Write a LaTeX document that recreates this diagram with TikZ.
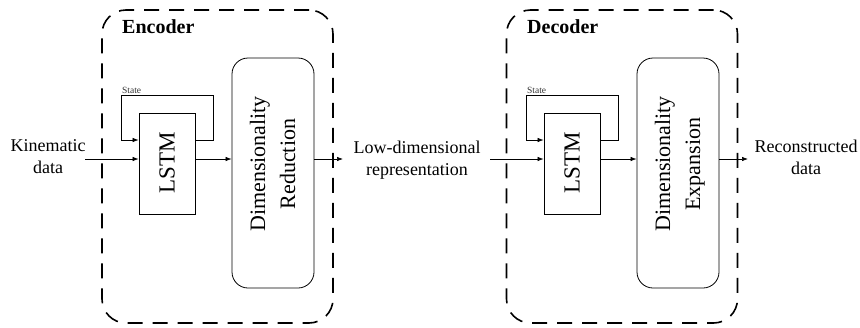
\documentclass[tikz,border=0pt]{standalone}
\usepackage{fontspec}
\setmainfont{Liberation Serif}
\usepackage{graphicx}
\usetikzlibrary{arrows.meta}
\begin{document}
\begin{tikzpicture}[x=1pt,y=-1pt,
  frame/.style={draw, dash pattern=on 15pt off 10pt, line width=1.6pt, rounded corners=24pt, minimum width=231pt, minimum height=313pt, inner sep=0pt},
  lstmbox/.style={draw, line width=0.8pt, minimum width=56pt, minimum height=101pt, inner sep=0pt},
  dimbox/.style={draw, line width=0.8pt, rounded corners=16pt, minimum width=82pt, minimum height=230pt, inner sep=0pt},
  arr/.style={line width=0.7pt, -{Latex[length=6pt,width=4.5pt]}},
  lbl/.style={font=\fontsize{18}{22}\selectfont, align=center, inner sep=0pt},
  ttl/.style={font=\fontsize{20}{24}\selectfont\bfseries, anchor=base west, inner sep=0pt},
  stl/.style={font=\fontsize{9.5}{11}\selectfont, anchor=base west, inner sep=0pt, text=black!80},
  rot/.style={inner sep=0pt}
]
\useasboundingbox (0,0) rectangle (860,327);

% ---------- Encoder ----------
\node[frame] (enc) at (217.5,166.5) {};
\node[ttl] (enct) at (122,33) {Encoder};
\node[lstmbox] (lstm1) at (167,163.5) {};
\node[rot] (lstm1t) at (167,163) {\rotatebox{90}{\fontsize{23}{26}\selectfont LSTM}};
\node[dimbox] (dr1) at (273,173) {};
\node[rot] (dr1t) at (274,164) {\rotatebox{90}{\fontsize{22}{30}\selectfont\begin{tabular}{@{}c@{}}Dimensionality\\Reduction\end{tabular}}};
\node[stl] (st1) at (122,93) {State};

\coordinate (in1) at (85,159);
\coordinate (out1) at (343,159);
\coordinate (s1a) at (213,140);
\coordinate (s1b) at (213,95);
\coordinate (s1c) at (121,95);
\coordinate (s1d) at (121,140);
\draw[arr] (in1) -- (in1 -| lstm1.west);
\draw[arr] (lstm1.east |- in1) -- (in1 -| dr1.west);
\draw[arr] (in1 -| dr1.east) -- (out1);
\draw[arr] (lstm1.east |- s1a) -- (s1a) -- (s1b) -- (s1c) -- (s1d) -- (lstm1.west |- s1d);

\node[lbl] (kin) at (48,157) {Kinematic\\data};
\node[lbl] (low) at (417,160) {Low-dimensional\\representation};

% ---------- Decoder ----------
\node[frame] (dec) at (622,166.5) {};
\node[ttl] (dect) at (527,33) {Decoder};
\node[lstmbox] (lstm2) at (572,163.5) {};
\node[rot] (lstm2t) at (572,163) {\rotatebox{90}{\fontsize{23}{26}\selectfont LSTM}};
\node[dimbox] (dr2) at (678,173) {};
\node[rot] (dr2t) at (679,164) {\rotatebox{90}{\fontsize{22}{30}\selectfont\begin{tabular}{@{}c@{}}Dimensionality\\Expansion\end{tabular}}};
\node[stl] (st2) at (527,93) {State};

\coordinate (in2) at (490,159);
\coordinate (out2) at (748,159);
\coordinate (s2a) at (618,140);
\coordinate (s2b) at (618,95);
\coordinate (s2c) at (526,95);
\coordinate (s2d) at (526,140);
\draw[arr] (in2) -- (in2 -| lstm2.west);
\draw[arr] (lstm2.east |- in2) -- (in2 -| dr2.west);
\draw[arr] (in2 -| dr2.east) -- (out2);
\draw[arr] (lstm2.east |- s2a) -- (s2a) -- (s2b) -- (s2c) -- (s2d) -- (lstm2.west |- s2d);

\node[lbl] (rec) at (806,157) {Reconstructed\\data};
\end{tikzpicture}
\end{document}
